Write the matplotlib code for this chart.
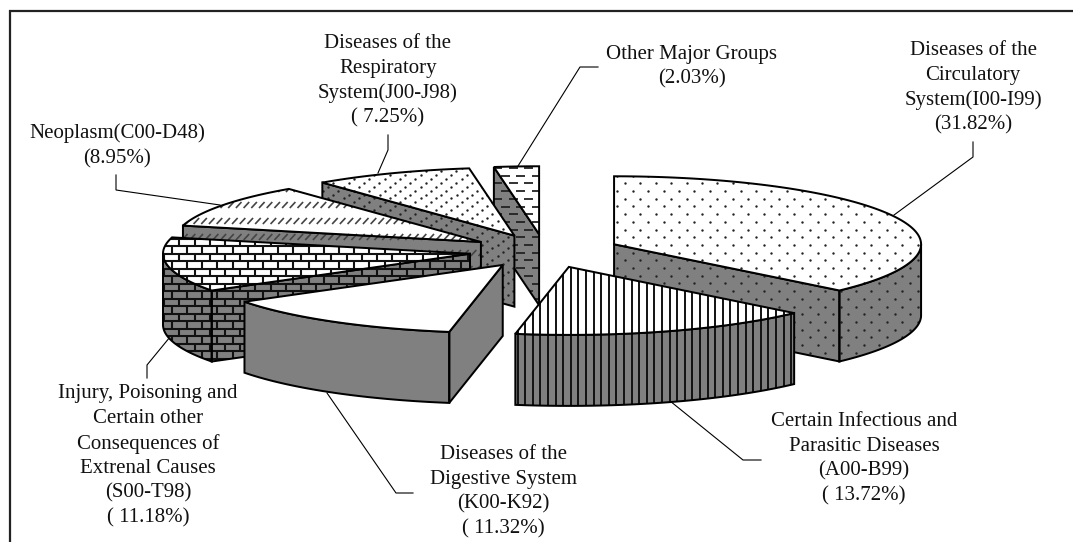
import numpy as np
import matplotlib
matplotlib.use('Agg')
import matplotlib.pyplot as plt
from matplotlib.patches import Polygon
from matplotlib.collections import LineCollection

plt.rcParams['font.family'] = ['Liberation Serif', 'DejaVu Sans']

names = ['Diseases of the\nCirculatory\nSystem(I00-I99)\n(31.82%)',
         'Certain Infectious and\nParasitic Diseases\n(A00-B99)\n( 13.72%)',
         'Diseases of the\nDigestive System\n(K00-K92)\n( 11.32%)',
         'Injury, Poisoning and\nCertain other\nConsequences of\nExtrenal Causes\n(S00-T98)\n( 11.18%)',
         'Neoplasm(C00-D48)\n(8.95%)',
         'Diseases of the\nRespiratory\nSystem(J00-J98)\n( 7.25%)',
         'Other Major Groups\n(2.03%)']
values = [31.82, 13.72, 11.32, 11.18, 8.95, 7.25, 2.03]
patterns = ['dots', 'stripes', 'plain', 'bricks', 'diag', 'fine', 'dash']

# layout, in image pixels
W, H = 1073, 542
CX, CY = 544.7, 251.0
RX, RY = 307.0, 68.0
DEPTH = 71.0
EXPLODE = 0.2466
GRAY = '#808080'
LW = 1.1

label_pos = [(973, 88), (864, 459), (503, 492), (148, 456), (117, 146), (388, 81), (692, 67)]
leaders = [[(894, 215), (973, 157), (973, 142)],
           [(670, 401), (743, 460), (761, 460)],
           [(327, 393), (396, 493), (413, 493)],
           [(170, 337), (147, 365), (147, 378)],
           [(220, 205), (116, 190), (116, 175)],
           [(378, 173), (388, 150), (388, 135)],
           [(518, 166), (580, 67), (598, 67)]]

fig = plt.figure(figsize=(W / 100, H / 100), dpi=100)
ax = fig.add_axes([0, 0, 1, 1])
ax.set_xlim(0, W)
ax.set_ylim(H, 0)
ax.axis('off')


def pt(apex, deg, dz=0.0):
    t = np.radians(deg)
    return apex[0] + RX * np.sin(t), apex[1] - RY * np.cos(t) + dz


def arc(apex, a, b, dz=0.0):
    n = max(int(abs(b - a)) * 2, 2)
    return [pt(apex, d, dz) for d in np.linspace(a, b, n)]


def add_segs(segs, patch, color, lw):
    lc = LineCollection(segs, colors=color, linewidths=lw, zorder=patch.get_zorder())
    ax.add_collection(lc)
    lc.set_clip_path(patch)


def fill_pattern(patch, kind):
    x0, x1, y0, y1 = 0, W, 0, H
    if kind == 'dots':
        xs, ys = [], []
        for i, y in enumerate(np.arange(183.3 % 7.7, y1, 7.7)):
            for x in np.arange(632.7 % 15.4 + (i % 2) * 7.7, x1, 15.4):
                xs.append(x)
                ys.append(y)
        s = ax.scatter(xs, ys, s=3.0, c='#222222', linewidths=0, zorder=patch.get_zorder())
        s.set_clip_path(patch)
    elif kind == 'fine':
        # every row slides a third of the pitch to the left
        xs, ys = [], []
        for i, y in enumerate(np.arange(190.7 - 49 * 3.85, y1, 3.85)):
            for x in np.arange((405 - i * 5.13) % 15.4, x1, 15.4):
                xs.append(x)
                ys.append(y)
        s = ax.scatter(xs, ys, s=3.0, c='#222222', linewidths=0, zorder=patch.get_zorder())
        s.set_clip_path(patch)
    elif kind == 'stripes':
        add_segs([[(x, y0), (x, y1)] for x in np.arange(570.7 % 7.6, x1, 7.6)], patch, '#111111', 1.4)
    elif kind == 'bricks':
        py, px = 7.5, 15.2
        segs = []
        for i, y in enumerate(np.arange(246 % py, y1, py)):
            segs.append([(x0, y), (x1, y)])
            for x in np.arange(187 % px + (i % 2) * px / 2, x1, px):
                segs.append([(x, y), (x, y + py)])
        add_segs(segs, patch, '#111111', 1.5)
    elif kind == 'diag':
        py, px = 16.0, 7.7
        segs = []
        for i, y in enumerate(np.arange(205 % py, y1, py)):
            for x in np.arange((i % 2) * px / 2, x1, px):
                segs.append([(x - 2.8, y + 3), (x + 2.8, y - 3)])
        add_segs(segs, patch, '#444444', 1.2)
    elif kind == 'dash':
        py, px = 7.7, 15.4
        segs = []
        for i, y in enumerate(np.arange(175.7 % py, y1, py)):
            for x in np.arange(520.7 % px + (i % 2) * px / 2, x1, px):
                segs.append([(x - 4.5, y), (x + 4.5, y)])
        add_segs(segs, patch, '#222222', 1.3)


def face(points, color, kind, z):
    # fill first, then the texture, then the black outline on top
    p = Polygon(points, closed=True, facecolor=color, edgecolor='none', zorder=z)
    ax.add_patch(p)
    fill_pattern(p, kind)
    ax.add_patch(Polygon(points, closed=True, fill=False, edgecolor='black',
                         linewidth=LW * 1.3, joinstyle='miter', zorder=z + 0.5))


# angles run clockwise from twelve o'clock
total = sum(values)
ends = np.cumsum(values) / total * 360
starts = np.concatenate([[0], ends[:-1]])

apexes = []
for a, b in zip(starts, ends):
    mid = np.radians((a + b) / 2)
    apexes.append((CX + EXPLODE * RX * np.sin(mid), CY - EXPLODE * RY * np.cos(mid)))

# painter's order, back to front
order = [6, 5, 4, 0, 3, 1, 2]
for rank, i in enumerate(order):
    a, b, apex, kind = starts[i], ends[i], apexes[i], patterns[i]
    z = 2 + rank * 2
    if np.cos(np.radians(a - 90)) < -1e-6:
        pa = pt(apex, a)
        pb = pt(apex, a, DEPTH)
        face([apex, pa, pb, (apex[0], apex[1] + DEPTH)], GRAY, kind, z)
    if np.cos(np.radians(b + 90)) < -1e-6:
        pa = pt(apex, b)
        pb = pt(apex, b, DEPTH)
        face([apex, pa, pb, (apex[0], apex[1] + DEPTH)], GRAY, kind, z)
    lo, hi = max(a, 90), min(b, 270)
    if hi > lo:
        face(arc(apex, lo, hi) + arc(apex, hi, lo, DEPTH), GRAY, kind, z)
    face([apex] + arc(apex, a, b), 'white', kind, z + 0.7)

for line in leaders:
    xs, ys = zip(*line)
    ax.plot(xs, ys, color='black', lw=0.8, zorder=1, solid_joinstyle='miter')

for s, (x, y) in zip(names, label_pos):
    ax.text(x, y, s, ha='center', va='center', fontsize=15, linespacing=1.39, color='#111111', zorder=30)

# frame: only top and left survive in the picture
ax.plot([10, 10, W], [H, 11, 11], color='#222222', lw=1.6, zorder=30, solid_joinstyle='miter')

fig.savefig('out.png', dpi=100, facecolor='white')
